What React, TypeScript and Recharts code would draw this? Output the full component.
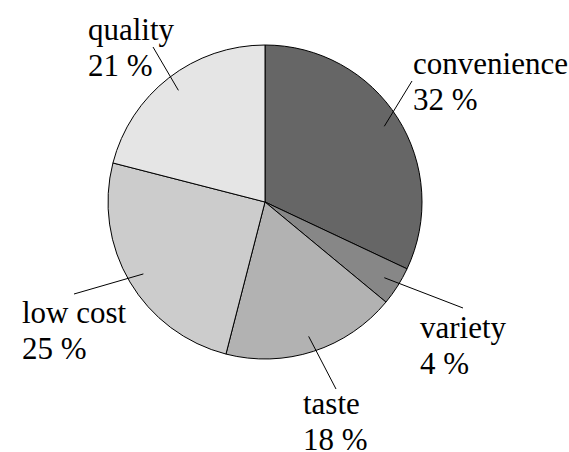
import React from 'react'
import { PieChart, Pie, Cell } from 'recharts'

const reasons = ['convenience', 'variety', 'taste', 'low cost', 'quality']
const shares = [32, 4, 18, 25, 21]
const shades = ['#666666', '#878787', '#b2b2b2', '#cccccc', '#e5e5e5']

const pieData = reasons.map((name, i) => ({ name, value: shares[i] }))

// caption placement, measured from the pie centre
const captionSpots: Record<string, { lx: number; ly: number; tx: number; ty: number }> = {
    convenience: { lx: 147, ly: -121, tx: 148, ty: -128 },
    variety: { lx: 198, ly: 106, tx: 155, ty: 136 },
    taste: { lx: 71, ly: 187, tx: 38, ty: 212 },
    'low cost': { lx: -191, ly: 92, tx: -243, ty: 121 },
    quality: { lx: -112, ly: -155, tx: -177, ty: -162 },
}

const RADIAN = Math.PI / 180
const LINE_GAP = 35.5
const SERIF = '"Liberation Serif", "Times New Roman", Times, serif'

const renderCaption = (props: any) => {
    const { cx, cy, midAngle, outerRadius, percent, index } = props
    const name = reasons[index]
    const spot = captionSpots[name]
    // leader line starts inside the slice, near its rim
    const r = outerRadius * 0.9
    const x0 = cx + r * Math.cos(-midAngle * RADIAN)
    const y0 = cy + r * Math.sin(-midAngle * RADIAN)
    return (
        <g key={`cap-${index}`}>
            <line
                x1={x0}
                y1={y0}
                x2={cx + spot.lx}
                y2={cy + spot.ly}
                stroke="#000"
                strokeWidth={1}
            />
            <text
                x={cx + spot.tx}
                y={cy + spot.ty}
                fill="#000"
                style={{ fontFamily: SERIF, fontSize: 31 }}
                textAnchor="start"
            >
                <tspan x={cx + spot.tx} y={cy + spot.ty}>
                    {name}
                </tspan>
                <tspan x={cx + spot.tx} y={cy + spot.ty + LINE_GAP}>
                    {`${Math.round(percent * 100)} %`}
                </tspan>
            </text>
        </g>
    )
}

const App = () => {
    return (
        <div style={{ position: 'absolute', left: 0, top: 0, background: '#fff', fontFamily: SERIF }}>
            <PieChart width={569} height={452}>
                <Pie
                    data={pieData}
                    dataKey="value"
                    nameKey="name"
                    cx={260}
                    cy={197}
                    outerRadius={157}
                    startAngle={90}
                    endAngle={-270}
                    stroke="#000"
                    strokeWidth={1}
                    label={renderCaption}
                    labelLine={false}
                    isAnimationActive={false}
                >
                    {pieData.map((entry, i) => (
                        <Cell key={entry.name} fill={shades[i]} />
                    ))}
                </Pie>
            </PieChart>
        </div>
    )
}

export default App
